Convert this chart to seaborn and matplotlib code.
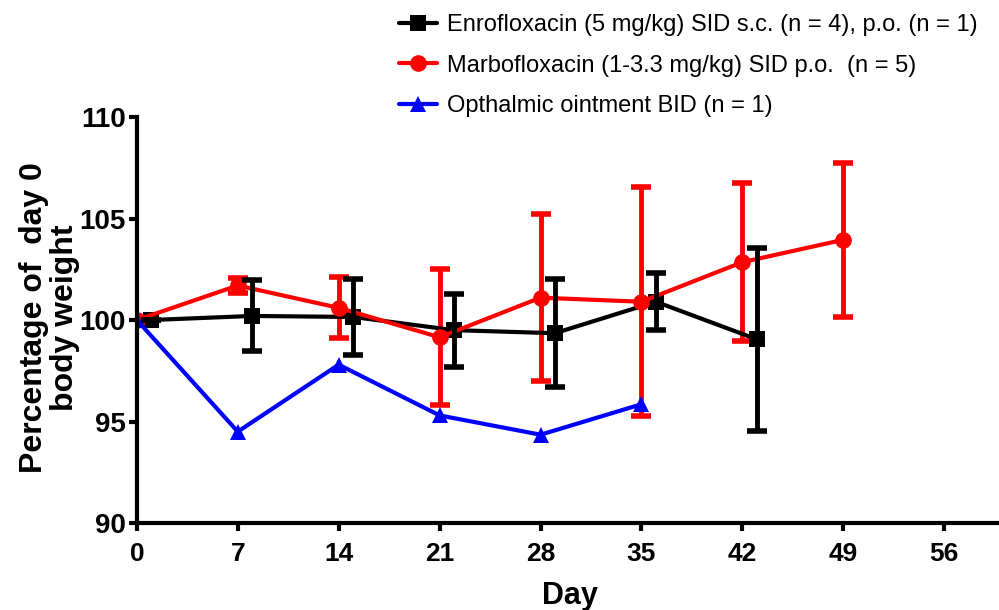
import matplotlib
matplotlib.use("Agg")
import matplotlib.pyplot as plt
from matplotlib.lines import Line2D
from matplotlib import font_manager
import seaborn as sns
import pandas as pd

# Enrofloxacin group (plotted 1 day to the right of the sampling day)
enro_day = [1, 8, 15, 22, 29, 36, 43]
enro_mean = [100.0, 100.2, 100.15, 99.5, 99.35, 100.9, 99.05]
enro_err = [0.0, 1.75, 1.85, 1.8, 2.65, 1.4, 4.5]

# Marbofloxacin group
marbo_day = [0, 7, 14, 21, 28, 35, 42, 49]
marbo_mean = [100.0, 101.7, 100.6, 99.15, 101.1, 100.9, 102.85, 103.95]
marbo_err = [0.0, 0.35, 1.5, 3.35, 4.1, 5.65, 3.9, 3.8]

# Ophthalmic ointment (single animal, no error)
oint_day = [0, 7, 14, 21, 28, 35]
oint_mean = [100.0, 94.5, 97.8, 95.3, 94.35, 95.85]

labels = [
    "Enrofloxacin (5 mg/kg) SID s.c. (n = 4), p.o. (n = 1)",
    "Marbofloxacin (1-3.3 mg/kg) SID p.o.  (n = 5)",
    "Opthalmic ointment BID (n = 1)",
]
colors = ["#000000", "#ff0000", "#0000ff"]
markers = ["s", "o", "^"]
x_ticks = [0, 7, 14, 21, 28, 35, 42, 49, 56]
y_ticks = [90, 95, 100, 105, 110]

sns.set_theme(style="white")
plt.rcParams["font.family"] = ["Liberation Sans", "DejaVu Sans"]
plt.rcParams.update({"text.color": "black", "axes.labelcolor": "black",
                     "xtick.color": "black", "ytick.color": "black"})

installed = {f.name for f in font_manager.fontManager.ttflist}
narrow = "Liberation Sans Narrow" if "Liberation Sans Narrow" in installed else "Liberation Sans"
has_narrow = narrow == "Liberation Sans Narrow"

fig = plt.figure(figsize=(9.99, 6.10), dpi=100)
ax = fig.add_axes([0.137, 0.1426, 0.863, 0.6656])

df = pd.concat([
    pd.DataFrame({"Day": marbo_day, "Weight": marbo_mean, "Group": labels[1]}),
    pd.DataFrame({"Day": enro_day, "Weight": enro_mean, "Group": labels[0]}),
    pd.DataFrame({"Day": oint_day, "Weight": oint_mean, "Group": labels[2]}),
])

palette = dict(zip(labels, colors))
mk = dict(zip(labels, markers))

sns.lineplot(data=df, x="Day", y="Weight", hue="Group", style="Group",
             palette=palette, markers=mk, dashes=False, sort=False,
             linewidth=3, markersize=12, markeredgewidth=0,
             hue_order=labels, style_order=labels, legend=False, ax=ax)

ax.errorbar(marbo_day, marbo_mean, yerr=marbo_err, fmt="none", ecolor=colors[1],
            elinewidth=3.5, capsize=7, capthick=4, zorder=1.5)
ax.errorbar(enro_day, enro_mean, yerr=enro_err, fmt="none", ecolor=colors[0],
            elinewidth=3.5, capsize=7, capthick=4, zorder=2.5)

ax.set_xlim(0, 59.8)
ax.set_ylim(90, 110)
ax.set_xticks(x_ticks)
ax.set_yticks(y_ticks)
for s in ["top", "right"]:
    ax.spines[s].set_visible(False)
for s in ["left", "bottom"]:
    ax.spines[s].set_linewidth(3)
    ax.spines[s].set_color("black")
ax.tick_params(axis="both", direction="out", length=6, width=3, color="black",
               left=True, bottom=True)
ax.tick_params(axis="y", labelsize=20, pad=2)
ax.tick_params(axis="x", labelsize=22 if has_narrow else 19, pad=8)
for t in ax.get_yticklabels():
    t.set_fontweight("bold")
for t in ax.get_xticklabels():
    t.set_fontweight("bold")
    t.set_family([narrow, "DejaVu Sans"])

ax.set_xlabel("Day", fontsize=24 if has_narrow else 22, fontweight="bold",
              family=[narrow, "DejaVu Sans"])
ax.xaxis.set_label_coords(0.502, -0.142)
ax.set_ylabel("Percentage of  day 0\nbody weight", fontsize=23,
              fontweight="bold", linespacing=1.05)
ax.yaxis.set_label_coords(-0.066, 0.505)
ax.grid(False)

handles = [Line2D([], [], color=c, marker=m, linewidth=3, markersize=12,
                  markeredgewidth=0) for c, m in zip(colors, markers)]
leg_font = {"family": [narrow, "DejaVu Sans"], "size": 21.5 if has_narrow else 17}
fig.legend(handles, labels, loc="upper left", bbox_to_anchor=(0.385, 1.0),
           frameon=False, prop=leg_font, handlelength=1.6, handletextpad=0.45,
           labelspacing=0.78, borderaxespad=0.2)

fig.savefig("out.png", dpi=100)
